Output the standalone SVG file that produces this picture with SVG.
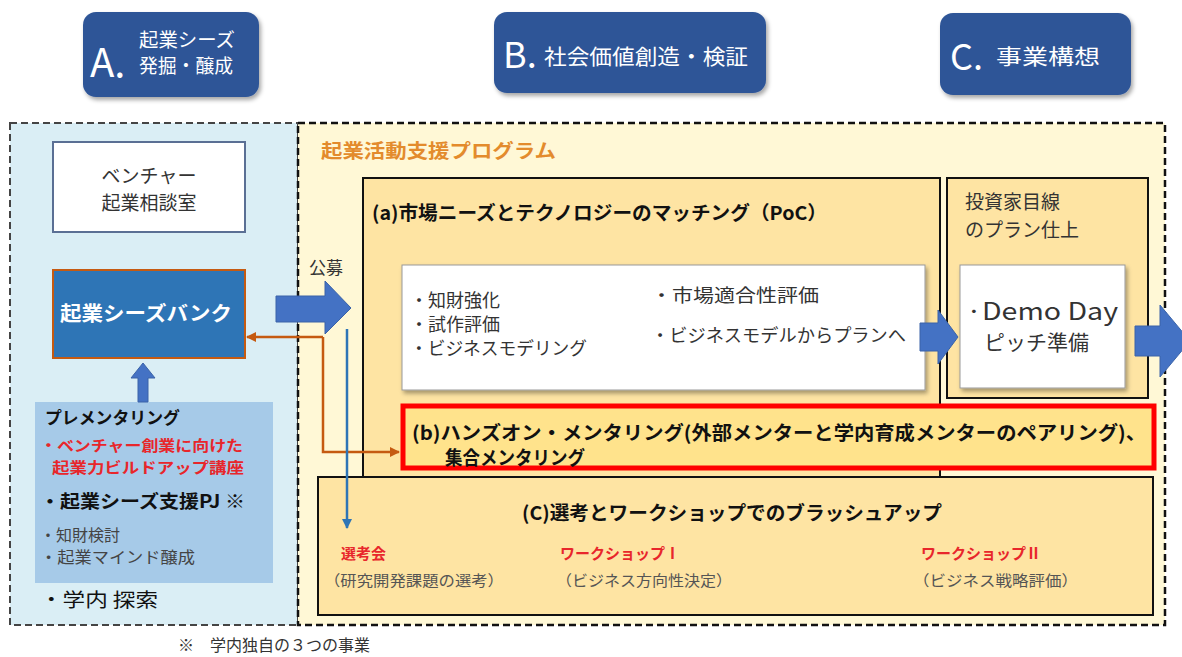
<svg xmlns="http://www.w3.org/2000/svg" width="1182" height="657" viewBox="0 0 1182 657">
<style>
text{font-family:"Noto Sans CJK JP","Noto Sans",sans-serif;}
.hd{fill:#2F5597;}
.wt{fill:#fff;}
.b{font-weight:bold;}
.dk{fill:#333;}
.bk{fill:#111;}
.rd{fill:#E8262B;font-weight:bold;}
.gy{fill:#555;}
.box{fill:#FEE4A3;stroke:#111;stroke-width:2;}
.wbox{fill:#fff;stroke:#999;stroke-width:1;}
.blk{fill:#4472C4;stroke:#3A63A8;stroke-width:1;}
</style>
<defs>
<filter id="sh" x="-10%" y="-10%" width="130%" height="130%"><feDropShadow dx="2" dy="3" stdDeviation="2" flood-color="#000" flood-opacity="0.35"/></filter>
<marker id="ao" viewBox="0 0 10 10" refX="9" refY="5" markerWidth="4" markerHeight="4" orient="auto-start-reverse"><path d="M0,0 L10,5 L0,10 z" fill="#C55A11"/></marker>
<marker id="ab" viewBox="0 0 10 10" refX="9" refY="5" markerWidth="4" markerHeight="4" orient="auto"><path d="M0,0 L10,5 L0,10 z" fill="#2E75B6"/></marker>
</defs>
<rect width="1182" height="657" fill="#fff"/>

<g id="headerA">
<rect x="83" y="12" width="176" height="85" rx="13" class="hd" filter="url(#sh)"/>
<text x="90" y="77" class="wt" font-size="40">A.</text>
<text x="139" y="47" class="wt" font-size="19" textLength="96" lengthAdjust="spacingAndGlyphs">起業シーズ</text>
<text x="139" y="73" class="wt" font-size="19" textLength="94" lengthAdjust="spacingAndGlyphs">発掘・醸成</text>
</g>
<g id="headerB">
<rect x="494" y="12" width="272" height="81" rx="13" class="hd" filter="url(#sh)"/>
<text x="503" y="68" class="wt" font-size="36">B.</text>
<text x="544" y="64" class="wt" font-size="21" textLength="204" lengthAdjust="spacingAndGlyphs">社会価値創造・検証</text>
</g>
<g id="headerC">
<rect x="940" y="13" width="191" height="82" rx="13" class="hd" filter="url(#sh)"/>
<text x="950" y="70" class="wt" font-size="36">C.</text>
<text x="996" y="64" class="wt" font-size="21" textLength="104" lengthAdjust="spacingAndGlyphs">事業構想</text>
</g>

<g id="regionA">
<rect x="10" y="123" width="288" height="502" fill="#DAEEF5" stroke="#444" stroke-width="2" stroke-dasharray="7,4"/>
</g>
<g id="regionBC">
<rect x="298" y="123" width="867" height="502" fill="#FFF8D6" stroke="#111" stroke-width="2.5" stroke-dasharray="7,4"/>
<text x="321" y="158" font-size="19" class="b" fill="#E38B2C" textLength="235" lengthAdjust="spacingAndGlyphs">起業活動支援プログラム</text>
</g>

<g id="consult">
<rect x="53" y="142" width="192" height="90" fill="#fff" stroke="#5A6F94" stroke-width="2"/>
<text x="149" y="183" text-anchor="middle" font-size="19" class="dk">ベンチャー</text>
<text x="149" y="210" text-anchor="middle" font-size="19" class="dk">起業相談室</text>
</g>

<g id="seedsbank">
<rect x="53" y="270" width="192" height="88" fill="#2E75B6" stroke="#C55A11" stroke-width="2"/>
<text x="60" y="321" font-size="20" class="wt b" textLength="172" lengthAdjust="spacingAndGlyphs">起業シーズバンク</text>
</g>

<g id="prementor">
<rect x="35" y="402" width="238" height="181" fill="#A6CAE8"/>
<text x="45" y="424" font-size="17" class="b bk" textLength="135" lengthAdjust="spacingAndGlyphs">プレメンタリング</text>
<text x="40" y="451" font-size="15" class="rd" textLength="203" lengthAdjust="spacingAndGlyphs">・ベンチャー創業に向けた</text>
<text x="52" y="473" font-size="15" class="rd" textLength="192" lengthAdjust="spacingAndGlyphs">起業力ビルドアップ講座</text>
<text x="40" y="508" font-size="18" class="b bk" textLength="205" lengthAdjust="spacingAndGlyphs">・起業シーズ支援PJ ※</text>
<text x="40" y="541" font-size="16" fill="#444" textLength="80" lengthAdjust="spacingAndGlyphs">・知財検討</text>
<text x="40" y="563" font-size="16" fill="#444" textLength="155" lengthAdjust="spacingAndGlyphs">・起業マインド醸成</text>
<text x="40" y="607" font-size="19" class="bk" textLength="118" lengthAdjust="spacingAndGlyphs">・学内 探索</text>
</g>

<g id="boxA">
<rect x="363" y="178" width="577" height="304" class="box"/>
<text x="372" y="220" font-size="19" class="b bk" textLength="455" lengthAdjust="spacingAndGlyphs">(a)市場ニーズとテクノロジーのマッチング（PoC）</text>
<rect x="402" y="265" width="523" height="125" class="wbox" filter="url(#sh)"/>
<text x="410" y="307" font-size="18" class="dk">・知財強化</text>
<text x="410" y="331" font-size="18" class="dk">・試作評価</text>
<text x="410" y="355" font-size="18" class="dk" textLength="177" lengthAdjust="spacingAndGlyphs">・ビジネスモデリング</text>
<text x="651" y="302" font-size="18" class="dk" textLength="168" lengthAdjust="spacingAndGlyphs">・市場適合性評価</text>
<text x="651" y="342" font-size="18" class="dk" textLength="255" lengthAdjust="spacingAndGlyphs">・ビジネスモデルからプランへ</text>
</g>

<g id="boxPlan">
<rect x="947" y="178" width="201" height="220" class="box"/>
<text x="965" y="209" font-size="19" class="dk">投資家目線</text>
<text x="965" y="237" font-size="19" class="dk">のプラン仕上</text>
<rect x="960" y="265" width="165" height="123" class="wbox" filter="url(#sh)"/>
<text x="966" y="320" font-size="24" class="dk" font-family="'DejaVu Sans','Noto Sans CJK JP',sans-serif" textLength="152" lengthAdjust="spacingAndGlyphs">·Demo Day</text>
<text x="984" y="350" font-size="21" class="dk">ピッチ準備</text>
</g>

<g id="boxB">
<rect x="403" y="406" width="751" height="62" fill="#FFE38C" stroke="#FF0000" stroke-width="5"/>
<text x="412" y="440" font-size="19" class="b bk" textLength="734" lengthAdjust="spacingAndGlyphs">(b)ハンズオン・メンタリング(外部メンターと学内育成メンターのペアリング)、</text>
<text x="445" y="465" font-size="19" class="b bk" textLength="140" lengthAdjust="spacingAndGlyphs">集合メンタリング</text>
</g>

<g id="boxC">
<rect x="318" y="477" width="835" height="138" class="box"/>
<text x="522" y="520" font-size="19" class="b bk" textLength="420" lengthAdjust="spacingAndGlyphs">(C)選考とワークショップでのブラッシュアップ</text>
<text x="341" y="559" font-size="15" class="rd">選考会</text>
<text x="324" y="586" font-size="15" class="gy" textLength="180" lengthAdjust="spacingAndGlyphs">（研究開発課題の選考）</text>
<text x="560" y="559" font-size="15" class="rd">ワークショップⅠ</text>
<text x="556" y="586" font-size="15" class="gy" textLength="176" lengthAdjust="spacingAndGlyphs">（ビジネス方向性決定）</text>
<text x="921" y="559" font-size="15" class="rd">ワークショップⅡ</text>
<text x="913" y="586" font-size="15" class="gy" textLength="165" lengthAdjust="spacingAndGlyphs">（ビジネス戦略評価）</text>
</g>

<g id="connectors">
<path class="blk" d="M276,296 H325 V281 L351,308 L325,334 V322 H276 Z"/>
<path class="blk" d="M138,402 V378 H131 L143,363 L155,378 H148 V402 Z"/>
<path class="blk" d="M920,323 H938 V310 L958,337 L938,364 V351 H920 Z"/>
<path class="blk" d="M1135,326 H1160 V305 L1190,341 L1160,377 V356 H1135 Z"/>
<path d="M323,337 H247" fill="none" stroke="#C55A11" stroke-width="2.5" marker-end="url(#ao)"/>
<path d="M323,337 V452 H399" fill="none" stroke="#C55A11" stroke-width="2.5" marker-end="url(#ao)"/>
<path d="M347,329 V528" fill="none" stroke="#2E75B6" stroke-width="2.5" marker-end="url(#ab)"/>
<text x="309" y="274" font-size="17" class="dk">公募</text>
</g>

<text x="178" y="651" font-size="16" class="dk">※　学内独自の３つの事業</text>
</svg>
